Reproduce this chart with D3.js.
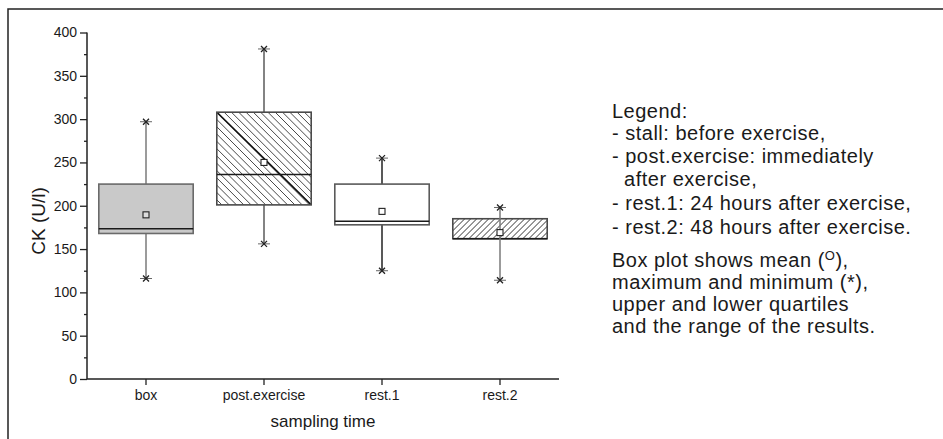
<!DOCTYPE html>
<html>
<head>
<meta charset="utf-8">
<script src="https://cdn.jsdelivr.net/npm/d3@7/dist/d3.min.js"></script>
<style>
  html, body { margin: 0; padding: 0; background: #fff; }
  svg { display: block; }
  text { font-family: "Liberation Sans", Arial, Helvetica, sans-serif; fill: #1a1a1a; }
</style>
</head>
<body>
<svg id="chart" width="943" height="439"></svg>
<script>
// ---- data ----
const categories = ["box", "post.exercise", "rest.1", "rest.2"];
const q1Values     = [168, 201, 178, 162];
const medianValues = [173.5, 236, 182, 162];
const q3Values     = [225, 308, 225, 185];
const meanValues   = [189.5, 250, 193.5, 169];
const maxValues    = [297, 381, 255, 198];
const minValues    = [116, 156, 125, 114];
const yTicks = [0, 50, 100, 150, 200, 250, 300, 350, 400];
const yMinorTicks = [25, 75, 125, 175, 225, 275, 325, 375];
const legendLines = [
  "Legend:",
  "- stall: before exercise,",
  "- post.exercise: immediately",
  "  after exercise,",
  "- rest.1: 24 hours after exercise,",
  "- rest.2: 48 hours after exercise."
];
const noteLines = [
  "Box plot shows mean (|O|),",
  "maximum and minimum (*),",
  "upper and lower quartiles",
  "and the range of the results."
];

// ---- styles per box ----
const boxFill    = ["#c9c9c9", "#ffffff", "#ffffff", "#ffffff"];
const boxStroke  = ["#6a6a6a", "#4a4a4a", "#5a5a5a", "#4a4a4a"];
const whiskColor = ["#7a7a7a", "#5a5a5a", "#222222", "#7a7a7a"];
const hatchType  = [null, "back", null, "fwd"];
const whiskThrough = [false, false, false, true];

const svg = d3.select("#chart");

// frame
svg.append("path")
  .attr("d", "M8,439 L8,9 L943,9")
  .attr("fill", "none").attr("stroke", "#222").attr("stroke-width", 1.5);

const x = d3.scaleBand().domain(categories).range([87, 559]).padding(0);
const y = d3.scaleLinear().domain([0, 400]).range([379, 32.5]);
const bw = x.bandwidth() * 0.8;

const data = categories.map((c, i) => ({
  c, i, q1: q1Values[i], med: medianValues[i], q3: q3Values[i],
  mean: meanValues[i], max: maxValues[i], min: minValues[i]
}));

const defs = svg.append("defs");
const g = svg.append("g");

data.forEach(d => {
  const cx = x(d.c) + x.bandwidth() / 2;
  const x0 = cx - bw / 2, x1 = cx + bw / 2;
  const yt = y(d.q3), yb = y(d.q1);
  const H = yb - yt, W = bw;
  const grp = g.append("g");

  const wc = whiskColor[d.i];
  if (!whiskThrough[d.i]) {
    grp.append("line").attr("x1", cx).attr("x2", cx).attr("y1", y(d.max)).attr("y2", yt)
      .attr("stroke", wc).attr("stroke-width", 1.5);
    grp.append("line").attr("x1", cx).attr("x2", cx).attr("y1", yb).attr("y2", y(d.min))
      .attr("stroke", wc).attr("stroke-width", 1.5);
  }

  grp.append("rect").attr("x", x0).attr("y", yt).attr("width", W).attr("height", H)
    .attr("fill", boxFill[d.i]);

  if (hatchType[d.i]) {
    const id = "clip" + d.i;
    defs.append("clipPath").attr("id", id).append("rect")
      .attr("x", x0).attr("y", yt).attr("width", W).attr("height", H);
    const hg = grp.append("g").attr("clip-path", `url(#${id})`);
    if (hatchType[d.i] === "back") {
      const s = 7.3;
      for (let k = -Math.ceil(H / s) * s; k <= W; k += s) {
        hg.append("line").attr("x1", x0 + k).attr("y1", yt).attr("x2", x0 + k + H).attr("y2", yb)
          .attr("stroke", "#333").attr("stroke-width", 0.9);
      }
      hg.append("line").attr("x1", x0).attr("y1", yt).attr("x2", x1).attr("y2", yb)
        .attr("stroke", "#111").attr("stroke-width", 1.6);
    } else {
      const s = 6;
      for (let k = -H; k <= W + H; k += s) {
        hg.append("line").attr("x1", x0 + k).attr("y1", yb).attr("x2", x0 + k + H).attr("y2", yt)
          .attr("stroke", "#333").attr("stroke-width", 1);
      }
    }
  }

  grp.append("rect").attr("x", x0).attr("y", yt).attr("width", W).attr("height", H)
    .attr("fill", "none").attr("stroke", boxStroke[d.i]).attr("stroke-width", 1.6);

  grp.append("line").attr("x1", x0).attr("x2", x1).attr("y1", y(d.med)).attr("y2", y(d.med))
    .attr("stroke", "#1a1a1a").attr("stroke-width", 1.5);

  if (whiskThrough[d.i]) {
    grp.append("line").attr("x1", cx).attr("x2", cx).attr("y1", y(d.max)).attr("y2", y(d.min))
      .attr("stroke", wc).attr("stroke-width", 1.5);
  }

  grp.append("rect").attr("x", cx - 3).attr("y", y(d.mean) - 3).attr("width", 6).attr("height", 6)
    .attr("fill", d.i === 0 ? "#dcdcdc" : "#fff").attr("stroke", "#222").attr("stroke-width", 1.1);

  [d.max, d.min].forEach(v => {
    const yy = y(v);
    grp.append("line").attr("x1", cx - 6).attr("x2", cx + 6).attr("y1", yy).attr("y2", yy)
      .attr("stroke", "#666").attr("stroke-width", 1);
    grp.append("path")
      .attr("d", `M${cx - 3},${yy - 3}L${cx + 3},${yy + 3}M${cx - 3},${yy + 3}L${cx + 3},${yy - 3}`)
      .attr("stroke", "#222").attr("stroke-width", 1.3);
  });
});

// ---- axes ----
const axisColor = "#222";
const yAxis = d3.axisLeft(y).tickValues(yTicks).tickSize(7).tickPadding(3);
const yg = svg.append("g").attr("transform", "translate(87,0)").call(yAxis);
yg.select(".domain").remove();
yg.selectAll(".tick line").attr("stroke", axisColor).attr("stroke-width", 1.3);
yg.selectAll(".tick text").attr("font-size", 14).attr("font-family", "Liberation Sans, Arial, sans-serif").attr("fill", "#1a1a1a");
const ymg = svg.append("g").attr("transform", "translate(87,0)")
  .call(d3.axisLeft(y).tickValues(yMinorTicks).tickSize(3).tickFormat(""));
ymg.select(".domain").remove();
ymg.selectAll(".tick line").attr("stroke", axisColor).attr("stroke-width", 1.3);

const xAxis = d3.axisBottom(x).tickSize(6).tickPadding(5).tickSizeOuter(0);
const xg = svg.append("g").attr("transform", "translate(0,379)").call(xAxis);
xg.select(".domain").remove();
xg.selectAll(".tick line").attr("stroke", axisColor).attr("stroke-width", 1.3);
xg.selectAll(".tick text").attr("font-size", 14).attr("font-family", "Liberation Sans, Arial, sans-serif").attr("fill", "#1a1a1a");

svg.append("path")
  .attr("d", `M${x.range()[0]},${y(400)}L${x.range()[0]},${y(0)}L${x.range()[1]},${y(0)}`)
  .attr("fill", "none").attr("stroke", axisColor).attr("stroke-width", 1.5);

// axis titles
svg.append("text").attr("transform", "translate(45,221) rotate(-90)")
  .attr("text-anchor", "middle").attr("font-size", 19).text("CK (U/l)");
svg.append("text").attr("x", 323).attr("y", 427)
  .attr("text-anchor", "middle").attr("font-size", 17).text("sampling time");

// ---- legend text ----
const lg = svg.append("g");
const legendY = [118, 140, 163, 186, 210, 234];
legendLines.forEach((t, i) => {
  lg.append("text").attr("x", 612).attr("y", legendY[i]).attr("font-size", 20)
    .attr("letter-spacing", 0.5)
    .attr("xml:space", "preserve").style("white-space", "pre").text(t);
});
const noteY = [267, 289, 311, 333];
noteLines.forEach((t, i) => {
  const tx = lg.append("text").attr("x", 612).attr("y", noteY[i]).attr("font-size", 20)
    .attr("letter-spacing", 0.5);
  const parts = t.split("|");
  parts.forEach((p, j) => {
    if (j === 1) {
      tx.append("tspan").attr("dy", -7).attr("font-size", 13).text(p);
    } else if (j === 2) {
      tx.append("tspan").attr("dy", 7).text(p);
    } else {
      tx.append("tspan").text(p);
    }
  });
});
</script>
</body>
</html>
